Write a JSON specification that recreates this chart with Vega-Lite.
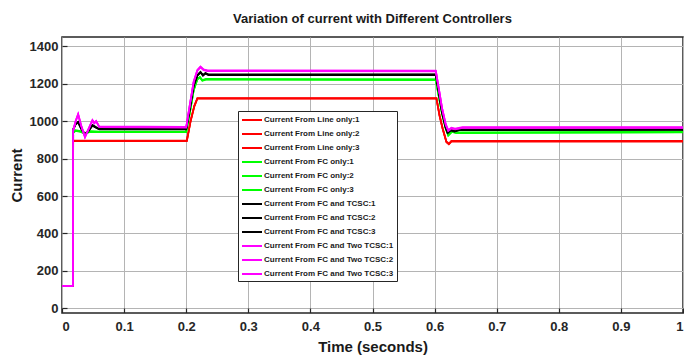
{
"$schema":"https://vega.github.io/schema/vega-lite/v6.json",
"width":621,"height":276,"autosize":"none",
"padding":{"left":62,"top":37,"right":1,"bottom":51},
"background":"white",
"title":{"text":"Variation of current with Different Controllers","font":"Liberation Sans","fontSize":13,"fontWeight":"bold","color":"#1a1a1a","anchor":"middle","offset":11},
"config":{"view":{"stroke":"#262626","strokeWidth":1.5},
"axis":{"labelFont":"Liberation Sans","labelFontSize":13,"labelFontWeight":"bold","labelColor":"#262626","titleFont":"Liberation Sans","titleFontSize":15,"titleFontWeight":"bold","titleColor":"#1a1a1a","gridColor":"#b4b4b4","gridWidth":1,"gridOpacity":1,"domainColor":"#262626","domainWidth":1.5,"tickColor":"#262626","tickWidth":1.2}},
"data":{"values":[
{"s":"Current From Line only:1","t":0,"v":120},{"s":"Current From Line only:1","t":0.0175,"v":120},{"s":"Current From Line only:1","t":0.018,"v":893},{"s":"Current From Line only:1","t":0.201,"v":893},{"s":"Current From Line only:1","t":0.207,"v":998},{"s":"Current From Line only:1","t":0.213,"v":1078},{"s":"Current From Line only:1","t":0.218,"v":1120},{"s":"Current From Line only:1","t":0.603,"v":1120},{"s":"Current From Line only:1","t":0.608,"v":1028},{"s":"Current From Line only:1","t":0.613,"v":958},{"s":"Current From Line only:1","t":0.619,"v":888},{"s":"Current From Line only:1","t":0.623,"v":876},{"s":"Current From Line only:1","t":0.627,"v":891},{"s":"Current From Line only:1","t":1,"v":891},
{"s":"Current From Line only:2","t":0,"v":120},{"s":"Current From Line only:2","t":0.0175,"v":120},{"s":"Current From Line only:2","t":0.018,"v":895},{"s":"Current From Line only:2","t":0.201,"v":895},{"s":"Current From Line only:2","t":0.207,"v":1000},{"s":"Current From Line only:2","t":0.213,"v":1080},{"s":"Current From Line only:2","t":0.218,"v":1122},{"s":"Current From Line only:2","t":0.603,"v":1122},{"s":"Current From Line only:2","t":0.608,"v":1030},{"s":"Current From Line only:2","t":0.613,"v":960},{"s":"Current From Line only:2","t":0.619,"v":890},{"s":"Current From Line only:2","t":0.623,"v":878},{"s":"Current From Line only:2","t":0.627,"v":893},{"s":"Current From Line only:2","t":1,"v":893},
{"s":"Current From Line only:3","t":0,"v":120},{"s":"Current From Line only:3","t":0.0175,"v":120},{"s":"Current From Line only:3","t":0.018,"v":897},{"s":"Current From Line only:3","t":0.201,"v":897},{"s":"Current From Line only:3","t":0.207,"v":1002},{"s":"Current From Line only:3","t":0.213,"v":1082},{"s":"Current From Line only:3","t":0.218,"v":1124},{"s":"Current From Line only:3","t":0.603,"v":1124},{"s":"Current From Line only:3","t":0.608,"v":1032},{"s":"Current From Line only:3","t":0.613,"v":962},{"s":"Current From Line only:3","t":0.619,"v":892},{"s":"Current From Line only:3","t":0.623,"v":880},{"s":"Current From Line only:3","t":0.627,"v":895},{"s":"Current From Line only:3","t":1,"v":895},
{"s":"Current From FC only:1","t":0,"v":120},{"s":"Current From FC only:1","t":0.0175,"v":120},{"s":"Current From FC only:1","t":0.018,"v":938},{"s":"Current From FC only:1","t":0.022,"v":948},{"s":"Current From FC only:1","t":0.03,"v":943},{"s":"Current From FC only:1","t":0.037,"v":933},{"s":"Current From FC only:1","t":0.045,"v":943},{"s":"Current From FC only:1","t":0.06,"v":941},{"s":"Current From FC only:1","t":0.2,"v":941},{"s":"Current From FC only:1","t":0.206,"v":1048},{"s":"Current From FC only:1","t":0.212,"v":1163},{"s":"Current From FC only:1","t":0.218,"v":1223},{"s":"Current From FC only:1","t":0.222,"v":1233},{"s":"Current From FC only:1","t":0.226,"v":1216},{"s":"Current From FC only:1","t":0.232,"v":1222},{"s":"Current From FC only:1","t":0.602,"v":1220},{"s":"Current From FC only:1","t":0.607,"v":1128},{"s":"Current From FC only:1","t":0.612,"v":1038},{"s":"Current From FC only:1","t":0.618,"v":958},{"s":"Current From FC only:1","t":0.622,"v":923},{"s":"Current From FC only:1","t":0.628,"v":943},{"s":"Current From FC only:1","t":0.635,"v":936},{"s":"Current From FC only:1","t":1,"v":940},
{"s":"Current From FC only:2","t":0,"v":120},{"s":"Current From FC only:2","t":0.0175,"v":120},{"s":"Current From FC only:2","t":0.018,"v":940},{"s":"Current From FC only:2","t":0.022,"v":950},{"s":"Current From FC only:2","t":0.03,"v":945},{"s":"Current From FC only:2","t":0.037,"v":935},{"s":"Current From FC only:2","t":0.045,"v":945},{"s":"Current From FC only:2","t":0.06,"v":943},{"s":"Current From FC only:2","t":0.2,"v":943},{"s":"Current From FC only:2","t":0.206,"v":1050},{"s":"Current From FC only:2","t":0.212,"v":1165},{"s":"Current From FC only:2","t":0.218,"v":1225},{"s":"Current From FC only:2","t":0.222,"v":1235},{"s":"Current From FC only:2","t":0.226,"v":1218},{"s":"Current From FC only:2","t":0.232,"v":1224},{"s":"Current From FC only:2","t":0.602,"v":1222},{"s":"Current From FC only:2","t":0.607,"v":1130},{"s":"Current From FC only:2","t":0.612,"v":1040},{"s":"Current From FC only:2","t":0.618,"v":960},{"s":"Current From FC only:2","t":0.622,"v":925},{"s":"Current From FC only:2","t":0.628,"v":945},{"s":"Current From FC only:2","t":0.635,"v":938},{"s":"Current From FC only:2","t":1,"v":942},
{"s":"Current From FC only:3","t":0,"v":120},{"s":"Current From FC only:3","t":0.0175,"v":120},{"s":"Current From FC only:3","t":0.018,"v":942},{"s":"Current From FC only:3","t":0.022,"v":952},{"s":"Current From FC only:3","t":0.03,"v":947},{"s":"Current From FC only:3","t":0.037,"v":937},{"s":"Current From FC only:3","t":0.045,"v":947},{"s":"Current From FC only:3","t":0.06,"v":945},{"s":"Current From FC only:3","t":0.2,"v":945},{"s":"Current From FC only:3","t":0.206,"v":1052},{"s":"Current From FC only:3","t":0.212,"v":1167},{"s":"Current From FC only:3","t":0.218,"v":1227},{"s":"Current From FC only:3","t":0.222,"v":1237},{"s":"Current From FC only:3","t":0.226,"v":1220},{"s":"Current From FC only:3","t":0.232,"v":1226},{"s":"Current From FC only:3","t":0.602,"v":1224},{"s":"Current From FC only:3","t":0.607,"v":1132},{"s":"Current From FC only:3","t":0.612,"v":1042},{"s":"Current From FC only:3","t":0.618,"v":962},{"s":"Current From FC only:3","t":0.622,"v":927},{"s":"Current From FC only:3","t":0.628,"v":947},{"s":"Current From FC only:3","t":0.635,"v":940},{"s":"Current From FC only:3","t":1,"v":944},
{"s":"Current From FC and TCSC:1","t":0,"v":120},{"s":"Current From FC and TCSC:1","t":0.0175,"v":120},{"s":"Current From FC and TCSC:1","t":0.018,"v":953},{"s":"Current From FC and TCSC:1","t":0.022,"v":983},{"s":"Current From FC and TCSC:1","t":0.026,"v":993},{"s":"Current From FC and TCSC:1","t":0.031,"v":958},{"s":"Current From FC and TCSC:1","t":0.037,"v":926},{"s":"Current From FC and TCSC:1","t":0.043,"v":948},{"s":"Current From FC and TCSC:1","t":0.049,"v":976},{"s":"Current From FC and TCSC:1","t":0.054,"v":966},{"s":"Current From FC and TCSC:1","t":0.06,"v":956},{"s":"Current From FC and TCSC:1","t":0.2,"v":956},{"s":"Current From FC and TCSC:1","t":0.206,"v":1068},{"s":"Current From FC and TCSC:1","t":0.212,"v":1188},{"s":"Current From FC and TCSC:1","t":0.218,"v":1243},{"s":"Current From FC and TCSC:1","t":0.223,"v":1260},{"s":"Current From FC and TCSC:1","t":0.227,"v":1243},{"s":"Current From FC and TCSC:1","t":0.231,"v":1254},{"s":"Current From FC and TCSC:1","t":0.236,"v":1246},{"s":"Current From FC and TCSC:1","t":0.602,"v":1247},{"s":"Current From FC and TCSC:1","t":0.607,"v":1148},{"s":"Current From FC and TCSC:1","t":0.612,"v":1048},{"s":"Current From FC and TCSC:1","t":0.618,"v":963},{"s":"Current From FC and TCSC:1","t":0.621,"v":936},{"s":"Current From FC and TCSC:1","t":0.626,"v":950},{"s":"Current From FC and TCSC:1","t":0.632,"v":944},{"s":"Current From FC and TCSC:1","t":0.64,"v":952},{"s":"Current From FC and TCSC:1","t":1,"v":953},
{"s":"Current From FC and TCSC:2","t":0,"v":120},{"s":"Current From FC and TCSC:2","t":0.0175,"v":120},{"s":"Current From FC and TCSC:2","t":0.018,"v":955},{"s":"Current From FC and TCSC:2","t":0.022,"v":985},{"s":"Current From FC and TCSC:2","t":0.026,"v":995},{"s":"Current From FC and TCSC:2","t":0.031,"v":960},{"s":"Current From FC and TCSC:2","t":0.037,"v":928},{"s":"Current From FC and TCSC:2","t":0.043,"v":950},{"s":"Current From FC and TCSC:2","t":0.049,"v":978},{"s":"Current From FC and TCSC:2","t":0.054,"v":968},{"s":"Current From FC and TCSC:2","t":0.06,"v":958},{"s":"Current From FC and TCSC:2","t":0.2,"v":958},{"s":"Current From FC and TCSC:2","t":0.206,"v":1070},{"s":"Current From FC and TCSC:2","t":0.212,"v":1190},{"s":"Current From FC and TCSC:2","t":0.218,"v":1245},{"s":"Current From FC and TCSC:2","t":0.223,"v":1262},{"s":"Current From FC and TCSC:2","t":0.227,"v":1245},{"s":"Current From FC and TCSC:2","t":0.231,"v":1256},{"s":"Current From FC and TCSC:2","t":0.236,"v":1248},{"s":"Current From FC and TCSC:2","t":0.602,"v":1249},{"s":"Current From FC and TCSC:2","t":0.607,"v":1150},{"s":"Current From FC and TCSC:2","t":0.612,"v":1050},{"s":"Current From FC and TCSC:2","t":0.618,"v":965},{"s":"Current From FC and TCSC:2","t":0.621,"v":938},{"s":"Current From FC and TCSC:2","t":0.626,"v":952},{"s":"Current From FC and TCSC:2","t":0.632,"v":946},{"s":"Current From FC and TCSC:2","t":0.64,"v":954},{"s":"Current From FC and TCSC:2","t":1,"v":955},
{"s":"Current From FC and TCSC:3","t":0,"v":120},{"s":"Current From FC and TCSC:3","t":0.0175,"v":120},{"s":"Current From FC and TCSC:3","t":0.018,"v":957},{"s":"Current From FC and TCSC:3","t":0.022,"v":987},{"s":"Current From FC and TCSC:3","t":0.026,"v":997},{"s":"Current From FC and TCSC:3","t":0.031,"v":962},{"s":"Current From FC and TCSC:3","t":0.037,"v":930},{"s":"Current From FC and TCSC:3","t":0.043,"v":952},{"s":"Current From FC and TCSC:3","t":0.049,"v":980},{"s":"Current From FC and TCSC:3","t":0.054,"v":970},{"s":"Current From FC and TCSC:3","t":0.06,"v":960},{"s":"Current From FC and TCSC:3","t":0.2,"v":960},{"s":"Current From FC and TCSC:3","t":0.206,"v":1072},{"s":"Current From FC and TCSC:3","t":0.212,"v":1192},{"s":"Current From FC and TCSC:3","t":0.218,"v":1247},{"s":"Current From FC and TCSC:3","t":0.223,"v":1264},{"s":"Current From FC and TCSC:3","t":0.227,"v":1247},{"s":"Current From FC and TCSC:3","t":0.231,"v":1258},{"s":"Current From FC and TCSC:3","t":0.236,"v":1250},{"s":"Current From FC and TCSC:3","t":0.602,"v":1251},{"s":"Current From FC and TCSC:3","t":0.607,"v":1152},{"s":"Current From FC and TCSC:3","t":0.612,"v":1052},{"s":"Current From FC and TCSC:3","t":0.618,"v":967},{"s":"Current From FC and TCSC:3","t":0.621,"v":940},{"s":"Current From FC and TCSC:3","t":0.626,"v":954},{"s":"Current From FC and TCSC:3","t":0.632,"v":948},{"s":"Current From FC and TCSC:3","t":0.64,"v":956},{"s":"Current From FC and TCSC:3","t":1,"v":957},
{"s":"Current From FC and Two TCSC:1","t":0,"v":120},{"s":"Current From FC and Two TCSC:1","t":0.0175,"v":120},{"s":"Current From FC and Two TCSC:1","t":0.018,"v":948},{"s":"Current From FC and Two TCSC:1","t":0.022,"v":998},{"s":"Current From FC and Two TCSC:1","t":0.026,"v":1035},{"s":"Current From FC and Two TCSC:1","t":0.031,"v":973},{"s":"Current From FC and Two TCSC:1","t":0.037,"v":913},{"s":"Current From FC and Two TCSC:1","t":0.043,"v":958},{"s":"Current From FC and Two TCSC:1","t":0.049,"v":1003},{"s":"Current From FC and Two TCSC:1","t":0.052,"v":988},{"s":"Current From FC and Two TCSC:1","t":0.055,"v":998},{"s":"Current From FC and Two TCSC:1","t":0.06,"v":968},{"s":"Current From FC and Two TCSC:1","t":0.2,"v":966},{"s":"Current From FC and Two TCSC:1","t":0.206,"v":1088},{"s":"Current From FC and Two TCSC:1","t":0.212,"v":1208},{"s":"Current From FC and Two TCSC:1","t":0.218,"v":1270},{"s":"Current From FC and Two TCSC:1","t":0.223,"v":1288},{"s":"Current From FC and Two TCSC:1","t":0.228,"v":1273},{"s":"Current From FC and Two TCSC:1","t":0.234,"v":1268},{"s":"Current From FC and Two TCSC:1","t":0.602,"v":1266},{"s":"Current From FC and Two TCSC:1","t":0.607,"v":1168},{"s":"Current From FC and Two TCSC:1","t":0.612,"v":1068},{"s":"Current From FC and Two TCSC:1","t":0.618,"v":980},{"s":"Current From FC and Two TCSC:1","t":0.622,"v":948},{"s":"Current From FC and Two TCSC:1","t":0.627,"v":961},{"s":"Current From FC and Two TCSC:1","t":0.633,"v":956},{"s":"Current From FC and Two TCSC:1","t":0.645,"v":964},{"s":"Current From FC and Two TCSC:1","t":1,"v":964},
{"s":"Current From FC and Two TCSC:2","t":0,"v":120},{"s":"Current From FC and Two TCSC:2","t":0.0175,"v":120},{"s":"Current From FC and Two TCSC:2","t":0.018,"v":950},{"s":"Current From FC and Two TCSC:2","t":0.022,"v":1000},{"s":"Current From FC and Two TCSC:2","t":0.026,"v":1037},{"s":"Current From FC and Two TCSC:2","t":0.031,"v":975},{"s":"Current From FC and Two TCSC:2","t":0.037,"v":915},{"s":"Current From FC and Two TCSC:2","t":0.043,"v":960},{"s":"Current From FC and Two TCSC:2","t":0.049,"v":1005},{"s":"Current From FC and Two TCSC:2","t":0.052,"v":990},{"s":"Current From FC and Two TCSC:2","t":0.055,"v":1000},{"s":"Current From FC and Two TCSC:2","t":0.06,"v":970},{"s":"Current From FC and Two TCSC:2","t":0.2,"v":968},{"s":"Current From FC and Two TCSC:2","t":0.206,"v":1090},{"s":"Current From FC and Two TCSC:2","t":0.212,"v":1210},{"s":"Current From FC and Two TCSC:2","t":0.218,"v":1272},{"s":"Current From FC and Two TCSC:2","t":0.223,"v":1290},{"s":"Current From FC and Two TCSC:2","t":0.228,"v":1275},{"s":"Current From FC and Two TCSC:2","t":0.234,"v":1270},{"s":"Current From FC and Two TCSC:2","t":0.602,"v":1268},{"s":"Current From FC and Two TCSC:2","t":0.607,"v":1170},{"s":"Current From FC and Two TCSC:2","t":0.612,"v":1070},{"s":"Current From FC and Two TCSC:2","t":0.618,"v":982},{"s":"Current From FC and Two TCSC:2","t":0.622,"v":950},{"s":"Current From FC and Two TCSC:2","t":0.627,"v":963},{"s":"Current From FC and Two TCSC:2","t":0.633,"v":958},{"s":"Current From FC and Two TCSC:2","t":0.645,"v":966},{"s":"Current From FC and Two TCSC:2","t":1,"v":966},
{"s":"Current From FC and Two TCSC:3","t":0,"v":120},{"s":"Current From FC and Two TCSC:3","t":0.0175,"v":120},{"s":"Current From FC and Two TCSC:3","t":0.018,"v":952},{"s":"Current From FC and Two TCSC:3","t":0.022,"v":1002},{"s":"Current From FC and Two TCSC:3","t":0.026,"v":1039},{"s":"Current From FC and Two TCSC:3","t":0.031,"v":977},{"s":"Current From FC and Two TCSC:3","t":0.037,"v":917},{"s":"Current From FC and Two TCSC:3","t":0.043,"v":962},{"s":"Current From FC and Two TCSC:3","t":0.049,"v":1007},{"s":"Current From FC and Two TCSC:3","t":0.052,"v":992},{"s":"Current From FC and Two TCSC:3","t":0.055,"v":1002},{"s":"Current From FC and Two TCSC:3","t":0.06,"v":972},{"s":"Current From FC and Two TCSC:3","t":0.2,"v":970},{"s":"Current From FC and Two TCSC:3","t":0.206,"v":1092},{"s":"Current From FC and Two TCSC:3","t":0.212,"v":1212},{"s":"Current From FC and Two TCSC:3","t":0.218,"v":1274},{"s":"Current From FC and Two TCSC:3","t":0.223,"v":1292},{"s":"Current From FC and Two TCSC:3","t":0.228,"v":1277},{"s":"Current From FC and Two TCSC:3","t":0.234,"v":1272},{"s":"Current From FC and Two TCSC:3","t":0.602,"v":1270},{"s":"Current From FC and Two TCSC:3","t":0.607,"v":1172},{"s":"Current From FC and Two TCSC:3","t":0.612,"v":1072},{"s":"Current From FC and Two TCSC:3","t":0.618,"v":984},{"s":"Current From FC and Two TCSC:3","t":0.622,"v":952},{"s":"Current From FC and Two TCSC:3","t":0.627,"v":965},{"s":"Current From FC and Two TCSC:3","t":0.633,"v":960},{"s":"Current From FC and Two TCSC:3","t":0.645,"v":968},{"s":"Current From FC and Two TCSC:3","t":1,"v":968}
]},
"mark":{"type":"line","strokeWidth":1.7,"interpolate":"linear","clip":true},
"encoding":{
"x":{"field":"t","type":"quantitative","scale":{"domain":[0,1],"nice":false,"zero":false},"axis":{"title":"Time (seconds)","values":[0,0.1,0.2,0.3,0.4,0.5,0.6,0.7,0.8,0.9,1],"format":".1~f","tickSize":-5,"labelPadding":12,"titlePadding":6,"domain":false,"grid":true}},
"y":{"field":"v","type":"quantitative","scale":{"domain":[-25,1450],"nice":false,"zero":false},"axis":{"title":"Current","values":[0,200,400,600,800,1000,1200,1400],"format":"d","tickSize":-5,"labelPadding":9,"titlePadding":5,"domain":false,"grid":true}},
"color":{"field":"s","type":"nominal","sort":null,
"scale":{"domain":["Current From Line only:1","Current From Line only:2","Current From Line only:3","Current From FC only:1","Current From FC only:2","Current From FC only:3","Current From FC and TCSC:1","Current From FC and TCSC:2","Current From FC and TCSC:3","Current From FC and Two TCSC:1","Current From FC and Two TCSC:2","Current From FC and Two TCSC:3"],
"range":["#ff0000","#ff0000","#ff0000","#00ff00","#00ff00","#00ff00","#000000","#000000","#000000","#ff00ff","#ff00ff","#ff00ff"]},
"legend":{"title":null,"orient":"none","legendX":176,"legendY":74,"fillColor":"white","strokeColor":"#262626","padding":3,"symbolType":"M-2,0H2","symbolSize":100,"symbolStrokeWidth":2,"symbolOffset":5,"labelFont":"Liberation Sans","labelFontSize":8,"labelFontWeight":"bold","labelColor":"#1a1a1a","rowPadding":4,"labelOffset":6,"labelLimit":300}}
}
}
